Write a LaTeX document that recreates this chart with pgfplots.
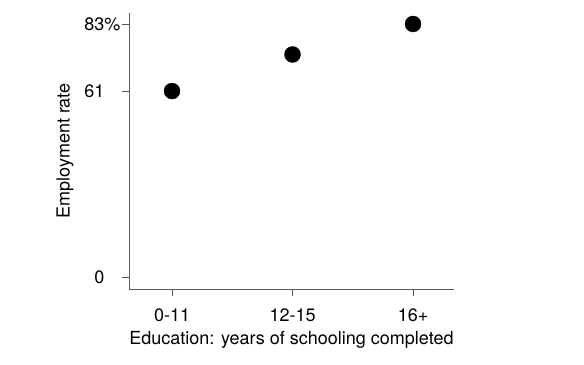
\documentclass[border=0pt]{standalone}
\usepackage{pgfplots}
\pgfplotsset{compat=1.18}
\usepackage{fontspec}
\setmainfont{TeX Gyre Heros}
\begin{document}
\begin{tikzpicture}
\path[use as bounding box] (-129bp,-76bp) rectangle (455bp,289bp);
\begin{axis}[
  at={(0,0)}, anchor=south west,
  scale only axis,
  width=325bp, height=276bp,
  font=\fontsize{18bp}{21bp}\selectfont,
  axis x line*=bottom, axis y line*=left,
  axis line style={black!65, line width=0.8pt},
  tick style={black!65, line width=0.8pt},
  tick align=outside,
  major tick length=7bp,
  xmin=-0.357, xmax=2.34,
  ymin=-3.9, ymax=86.6,
  xtick={0,1,2}, xticklabels={0-11,12-15,16+},
  ytick={0,61,83}, yticklabels={0\phantom{\%},61\phantom{\%},83\%},
  x tick label style={anchor=base, yshift=-25bp},
  y tick label style={anchor=east, xshift=2bp},
  xlabel={Education: years of schooling completed},
  ylabel={Employment rate},
  xlabel style={at={(axis description cs:0.5,0)}, anchor=base, yshift=-55bp},
  ylabel style={at={(axis description cs:-0.197,0.5)}, anchor=center, rotate=0},
  clip=false,
]
\addplot[only marks, mark=*, mark size=8bp, black] coordinates {
  (0,61) (1,73) (2,83)
};
\end{axis}
\end{tikzpicture}
\end{document}
